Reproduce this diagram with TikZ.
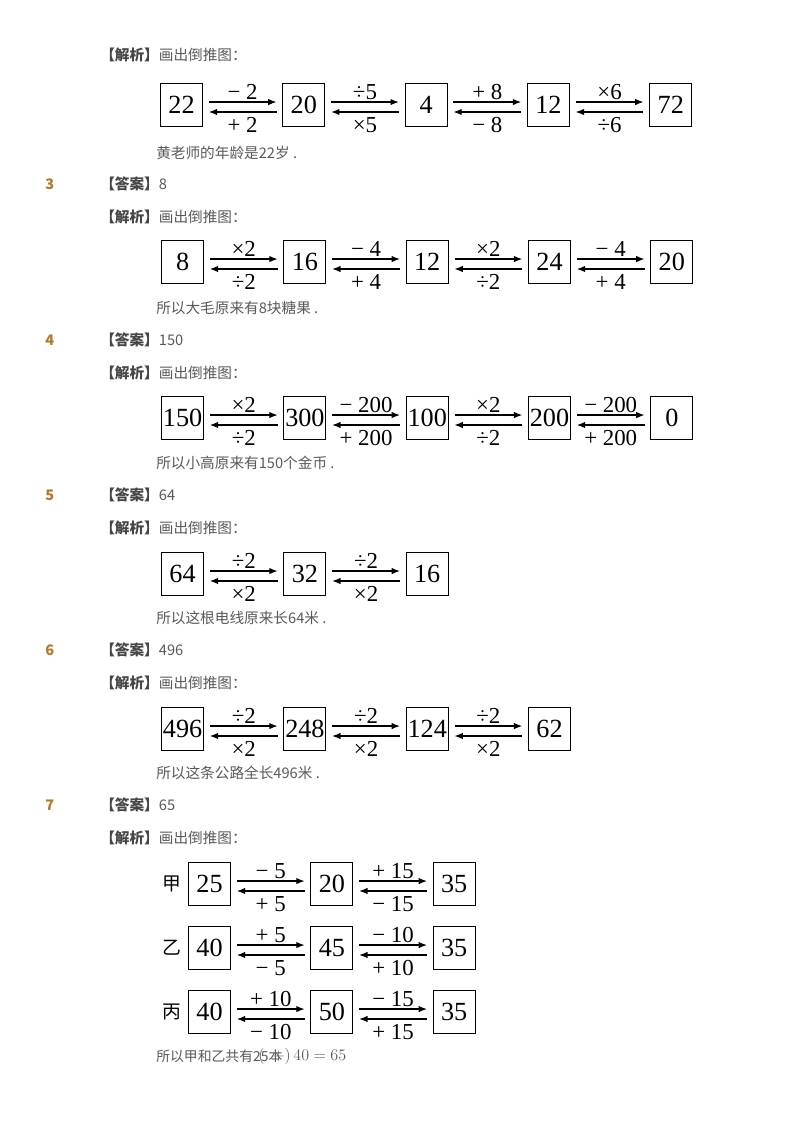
\documentclass[tikz,border=0pt]{standalone}
\usepackage{fontspec}
\setmainfont{Liberation Serif}
\newfontfamily\cjk{Noto Sans CJK SC}
\usetikzlibrary{positioning,arrows.meta}

\definecolor{bodygray}{HTML}{5A5A5A}
\definecolor{headgray}{HTML}{464646}
\definecolor{qbrown}{HTML}{B07A2C}

% pair of arrows between two boxes, forward label on top, backward label below
\newcommand{\oplink}[4]{%
  \draw[fwd] ([yshift=2.2pt]#1.east) -- node[oplabel, above=1.2pt] {#3} ([yshift=2.2pt]#2.west);
  \draw[fwd] ([yshift=-5.2pt]#2.west) -- node[oplabel, below=3.4pt] {#4} ([yshift=-5.2pt]#1.east);
}
\newcommand{\qhead}[3]{%
  \node[qnum] at (45,#1) {#2};
  \node[txt] at (100,#1) {{\bfseries\color{headgray}【答案】}#3};
  \node[txt] at (100,#1+33) {{\bfseries\color{headgray}【解析】}画出倒推图：};
}

\begin{document}
\begin{tikzpicture}[x=0.744pt, y=-0.744pt,
    numbox/.style={draw, line width=0.8pt, minimum width=31.2pt, minimum height=31.6pt,
      inner sep=0pt, font=\fontsize{19.5}{21}\selectfont},
    oplabel/.style={inner sep=0pt, font=\fontsize{17}{19}\selectfont},
    fwd/.style={-{Latex[length=6.2pt,width=4.8pt]}, line width=0.85pt,
      shorten <=4.3pt, shorten >=4.3pt},
    txt/.style={anchor=west, inner sep=0pt, text=bodygray, font=\cjk\fontsize{10.9}{12}\selectfont},
    qnum/.style={anchor=west, inner sep=0pt, text=qbrown, font=\cjk\bfseries\fontsize{10.8}{12}\selectfont},
    rowname/.style={inner sep=0pt, font=\cjk\fontsize{14}{15}\selectfont},
    node distance=59pt]
  \fill[white] (0,0) rectangle (800,1133);

  % --- 2 ---
  \node[txt] at (100,55) {{\bfseries\color{headgray}【解析】}画出倒推图：};
  \node[numbox] (a1) at (181.5,105) {22};
  \node[numbox, right=of a1] (a2) {20};
  \node[numbox, right=of a2] (a3) {4};
  \node[numbox, right=of a3] (a4) {12};
  \node[numbox, right=of a4] (a5) {72};
  \oplink{a1}{a2}{− 2}{+ 2}
  \oplink{a2}{a3}{÷5}{×5}
  \oplink{a3}{a4}{+ 8}{− 8}
  \oplink{a4}{a5}{×6}{÷6}
  \node[txt] at (156,153) {黄老师的年龄是22岁 .};

  % --- 3 ---
  \qhead{184}{3}{8}
  \node[numbox] (b1) at (182.6,262) {8};
  \node[numbox, right=of b1] (b2) {16};
  \node[numbox, right=of b2] (b3) {12};
  \node[numbox, right=of b3] (b4) {24};
  \node[numbox, right=of b4] (b5) {20};
  \oplink{b1}{b2}{×2}{÷2}
  \oplink{b2}{b3}{− 4}{+ 4}
  \oplink{b3}{b4}{×2}{÷2}
  \oplink{b4}{b5}{− 4}{+ 4}
  \node[txt] at (156,308) {所以大毛原来有8块糖果 .};

  % --- 4 ---
  \qhead{340}{4}{150}
  \node[numbox] (c1) at (182.6,418) {150};
  \node[numbox, right=of c1] (c2) {300};
  \node[numbox, right=of c2] (c3) {100};
  \node[numbox, right=of c3] (c4) {200};
  \node[numbox, right=of c4] (c5) {0};
  \oplink{c1}{c2}{×2}{÷2}
  \oplink{c2}{c3}{− 200}{+ 200}
  \oplink{c3}{c4}{×2}{÷2}
  \oplink{c4}{c5}{− 200}{+ 200}
  \node[txt] at (156,463) {所以小高原来有150个金币 .};

  % --- 5 ---
  \qhead{495}{5}{64}
  \node[numbox] (d1) at (182.6,574) {64};
  \node[numbox, right=of d1] (d2) {32};
  \node[numbox, right=of d2] (d3) {16};
  \oplink{d1}{d2}{÷2}{×2}
  \oplink{d2}{d3}{÷2}{×2}
  \node[txt] at (156,618) {所以这根电线原来长64米 .};

  % --- 6 ---
  \qhead{650}{6}{496}
  \node[numbox] (e1) at (182.6,729) {496};
  \node[numbox, right=of e1] (e2) {248};
  \node[numbox, right=of e2] (e3) {124};
  \node[numbox, right=of e3] (e4) {62};
  \oplink{e1}{e2}{÷2}{×2}
  \oplink{e2}{e3}{÷2}{×2}
  \oplink{e3}{e4}{÷2}{×2}
  \node[txt] at (156,773) {所以这条公路全长496米 .};

  % --- 7 ---
  \qhead{805}{7}{65}
  \node[numbox] (jia1) at (209.6,884) {25};
  \node[numbox, right=of jia1] (jia2) {20};
  \node[numbox, right=of jia2] (jia3) {35};
  \node[rowname, left=5pt of jia1] (jia) {甲};
  \oplink{jia1}{jia2}{− 5}{+ 5}
  \oplink{jia2}{jia3}{+ 15}{− 15}

  \node[numbox] (yi1) at (209.6,948) {40};
  \node[numbox, right=of yi1] (yi2) {45};
  \node[numbox, right=of yi2] (yi3) {35};
  \node[rowname, left=5pt of yi1] (yi) {乙};
  \oplink{yi1}{yi2}{+ 5}{− 5}
  \oplink{yi2}{yi3}{− 10}{+ 10}

  \node[numbox] (bing1) at (209.6,1012) {40};
  \node[numbox, right=of bing1] (bing2) {50};
  \node[numbox, right=of bing2] (bing3) {35};
  \node[rowname, left=5pt of bing1] (bing) {丙};
  \oplink{bing1}{bing2}{+ 10}{− 10}
  \oplink{bing2}{bing3}{− 15}{+ 15}

  \node[txt, font=\cjk\fontsize{10.3}{12}\selectfont] (sum) at (156,1056) {所以甲和乙共有25本};
  \node[anchor=west, inner sep=0pt, text=bodygray, font=\fontsize{12.5}{14}\selectfont]
    at (258,1056) {$(\hphantom{5}+)\,40 = 65$};
\end{tikzpicture}
\end{document}
